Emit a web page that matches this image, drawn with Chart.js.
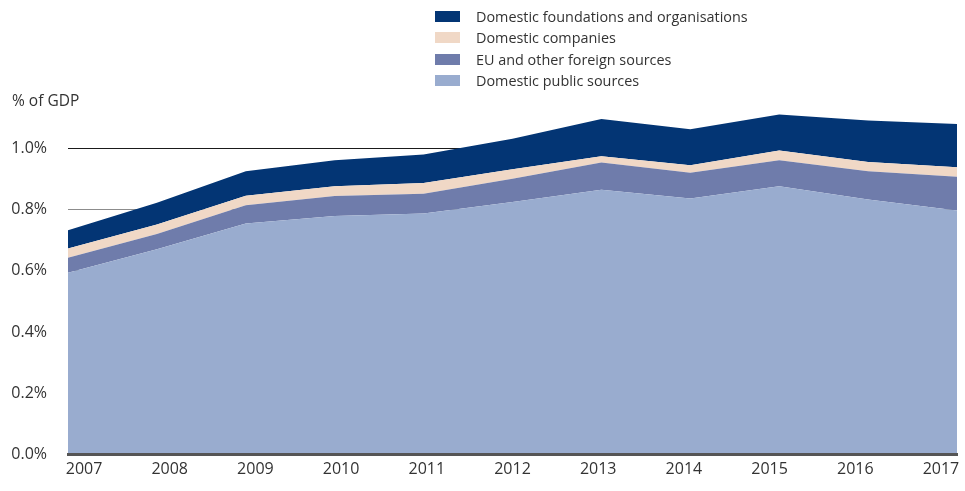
<!DOCTYPE html>
<html><head><meta charset="utf-8">
<script src="https://cdn.jsdelivr.net/npm/chart.js@4.4.1/dist/chart.umd.min.js"></script>
<style>
html,body{margin:0;padding:0;background:#fff;}
#wrap{position:relative;width:965px;height:491px;font-family:"Open Sans",sans-serif;color:#333;}
#c{position:absolute;left:0;top:0;}
#ytitle{position:absolute;left:12px;top:90px;font-size:15.5px;line-height:20px;}
#legend{position:absolute;left:435px;top:6px;font-size:14.4px;}
.li{display:flex;align-items:center;height:21.3px;}
.sw{width:25px;height:11px;margin-right:16px;flex:none;}
</style></head><body>
<div id="wrap"><canvas id="c" width="965" height="491"></canvas><div id="ytitle">% of GDP</div><div id="legend"></div></div>
<script>
const years = ['2007','2008','2009','2010','2011','2012','2013','2014','2015','2016','2017'];
const seriesNames = ['Domestic public sources','EU and other foreign sources','Domestic companies','Domestic foundations and organisations'];
const publicSources   = [0.594,0.671,0.755,0.779,0.787,0.825,0.865,0.836,0.876,0.833,0.797];
const foreignSources  = [0.049,0.049,0.059,0.065,0.065,0.076,0.089,0.084,0.085,0.092,0.110];
const companies       = [0.030,0.031,0.031,0.032,0.035,0.031,0.020,0.025,0.032,0.030,0.031];
const foundations     = [0.060,0.071,0.080,0.085,0.093,0.099,0.122,0.117,0.117,0.136,0.141];
const yTicks = [0,0.2,0.4,0.6,0.8,1.0];
const colors = ['#99accf','#6f7cab','#f0d8c6','#033574'];

const seriesData = [publicSources, foreignSources, companies, foundations];
const datasets = seriesData.map((d,i)=>({
  label: seriesNames[i],
  data: d,
  backgroundColor: colors[i],
  borderWidth: 0,
  pointRadius: 0,
  pointHoverRadius: 0,
  tension: 0,
  fill: i===0 ? 'origin' : '-1'
}));

const firstYear = Number(years[0]), lastYear = Number(years[years.length-1]);
const labelInset = 0.187; // label row is slightly narrower than the plotted range

const chart = new Chart(document.getElementById('c'), {
  type: 'line',
  data: { labels: years, datasets },
  options: {
    responsive: false,
    animation: false,
    layout: { padding: { top: 87, right: 8, bottom: 7, left: 0 } },
    plugins: { legend: { display: false }, tooltip: { enabled: false } },
    scales: {
      x: {
        offset: false,
        grid: { display: true, drawOnChartArea: false, drawTicks: false, color: 'rgba(0,0,0,0)', z: 1 },
        border: { display: true, color: '#555555', width: 3, z: 1 },
        ticks: { display: false }
      },
      xl: {
        type: 'linear',
        position: 'bottom',
        min: firstYear - labelInset,
        max: lastYear + labelInset,
        afterBuildTicks: (s) => { s.ticks = years.map(y => ({ value: Number(y) })); },
        grid: { display: false, drawTicks: false },
        border: { display: false },
        ticks: { color: '#333', font: { family: 'Open Sans', size: 16 }, padding: 5, maxRotation: 0, autoSkip: false,
          callback: (v) => String(v) }
      },
      y: {
        stacked: true,
        min: 0, max: 1.2,
        afterBuildTicks: (s) => { s.ticks = yTicks.map(v => ({ value: v })); },
        afterFit: (s) => { s.width = 68; },
        grid: {
          drawTicks: false,
          color: (ctx) => (ctx.tick && Math.abs(ctx.tick.value - 1) < 1e-6) ? '#1a1a1a' : '#8c8c8c',
          lineWidth: 1
        },
        border: { display: false },
        ticks: { color: '#333', font: { family: 'Open Sans', size: 16 }, padding: 21,
          callback: (v) => Number(v).toFixed(1) + '%' }
      }
    }
  }
});

const lg = document.getElementById('legend');
chart.data.datasets.slice().reverse().forEach(ds => {
  const row = document.createElement('div'); row.className = 'li';
  const sw = document.createElement('span'); sw.className = 'sw'; sw.style.background = ds.backgroundColor;
  const tx = document.createElement('span'); tx.textContent = ds.label;
  row.appendChild(sw); row.appendChild(tx); lg.appendChild(row);
});
</script>
</body></html>
